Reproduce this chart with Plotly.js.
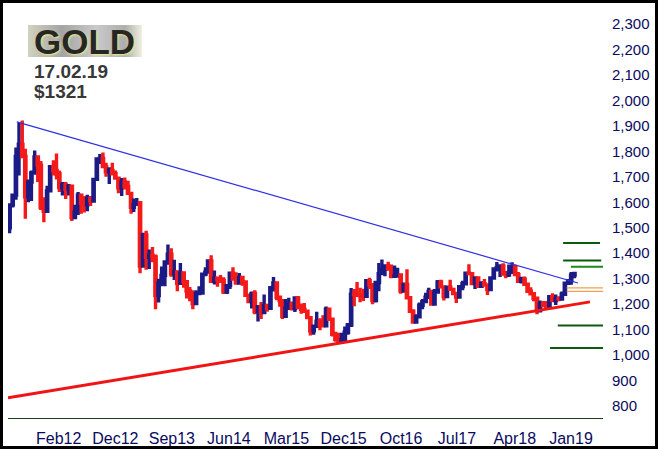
<!DOCTYPE html>
<html><head><meta charset="utf-8">
<script src="https://cdn.plot.ly/plotly-3.0.1.min.js"></script>
<style>html,body{margin:0;padding:0;background:#fff;}#chart{width:652px;height:443px;border:3px solid #000;}</style>
</head><body><div id="chart"></div><script>
// Semi-monthly gold OHLC (USD/oz), Jul 2011 - mid Feb 2019
const open = [
 1500,1590,1628,1780,1828,1780,1622,1680,1715,1778,1746,1580,
 1565,1645,1740,1725,1712,1658,1668,1650,1663,1540,1562,1628,1598,1590,1614,1605,1690,1770,1772,1740,1720,1725,1712,1695,
 1657,1680,1662,1635,1580,1592,1598,1350,1472,1385,1392,1385,1234,1283,1313,1366,1396,1318,1327,1282,1323,1288,1252,1233,
 1202,1242,1244,1318,1326,1370,1290,1302,1297,1293,1249,1273,1322,1299,1283,1305,1287,1235,1210,1242,1171,1190,1167,1195,
 1184,1265,1283,1227,1213,1152,1184,1200,1183,1224,1190,1180,1172,1147,1095,1113,1133,1118,1115,1180,1141,1082,1062,1050,
 1061,1090,1118,1239,1238,1235,1234,1231,1292,1276,1215,1285,1320,1337,1350,1340,1309,1310,1315,1252,1277,1225,1172,1130,
 1150,1196,1210,1227,1250,1200,1248,1287,1268,1230,1267,1258,1242,1228,1269,1280,1322,1320,1281,1303,1270,1280,1275,1257,
 1303,1338,1343,1350,1318,1315,1325,1345,1316,1290,1298,1278,1251,1241,1223,1175,1201,1195,1190,1229,1214,1221,1220,1239,
 1282,1292,1314];
const high = [
 1595,1632,1815,1912,1921,1810,1690,1725,1803,1780,1762,1620,
 1665,1745,1765,1792,1725,1680,1680,1672,1665,1590,1640,1630,1625,1630,1625,1694,1777,1790,1796,1755,1738,1755,1725,1698,
 1695,1697,1685,1636,1615,1617,1600,1480,1488,1415,1424,1395,1300,1348,1370,1434,1420,1374,1333,1362,1325,1290,1267,1255,
 1255,1270,1320,1345,1373,1392,1332,1305,1315,1306,1275,1325,1345,1325,1322,1305,1290,1237,1250,1255,1192,1209,1238,1202,
 1265,1307,1285,1230,1220,1220,1225,1210,1225,1232,1203,1205,1175,1148,1120,1170,1145,1156,1191,1185,1142,1092,1088,1088,
 1112,1126,1263,1260,1287,1264,1261,1297,1304,1279,1292,1362,1375,1357,1367,1356,1352,1343,1318,1285,1337,1230,1180,1160,
 1207,1220,1245,1264,1255,1260,1295,1296,1270,1268,1296,1260,1243,1270,1292,1325,1357,1322,1306,1306,1290,1299,1278,1309,
 1345,1366,1350,1361,1330,1356,1365,1355,1326,1308,1309,1280,1266,1242,1224,1214,1212,1212,1233,1243,1238,1231,1250,1285,
 1298,1326,1326];
const low = [
 1478,1580,1610,1705,1815,1535,1600,1605,1710,1680,1570,1522,
 1560,1640,1705,1690,1640,1627,1613,1627,1527,1535,1550,1555,1560,1565,1585,1600,1685,1750,1745,1700,1672,1705,1690,1636,
 1625,1650,1630,1555,1562,1590,1321,1350,1335,1338,1365,1180,1207,1270,1270,1355,1308,1295,1251,1275,1264,1222,1211,1180,
 1200,1236,1238,1310,1322,1287,1277,1268,1283,1240,1240,1260,1295,1280,1280,1272,1228,1206,1183,1160,1132,1142,1160,1170,
 1180,1250,1215,1190,1142,1150,1183,1175,1169,1180,1162,1168,1146,1077,1080,1112,1098,1115,1112,1140,1073,1052,1046,1047,
 1061,1080,1110,1192,1233,1208,1212,1225,1260,1200,1207,1251,1320,1310,1331,1302,1305,1308,1241,1250,1222,1170,1124,1123,
 1146,1180,1208,1223,1194,1200,1244,1262,1214,1225,1256,1237,1205,1228,1255,1278,1320,1280,1260,1263,1265,1270,1236,1255,
 1302,1328,1307,1313,1302,1307,1322,1310,1286,1281,1276,1245,1237,1211,1160,1167,1190,1180,1182,1221,1197,1211,1220,1236,
 1275,1276,1302];
const close = [
 1590,1628,1780,1828,1780,1622,1680,1715,1778,1746,1580,1565,
 1645,1740,1725,1712,1658,1668,1650,1663,1540,1562,1628,1598,1590,1614,1605,1690,1770,1772,1740,1720,1725,1712,1695,1657,
 1680,1662,1635,1580,1592,1598,1350,1472,1385,1392,1385,1234,1283,1313,1366,1396,1318,1327,1282,1323,1288,1252,1233,1202,
 1242,1244,1318,1326,1370,1290,1302,1297,1293,1249,1273,1322,1299,1283,1305,1287,1235,1210,1242,1171,1190,1167,1195,1184,
 1265,1283,1227,1213,1152,1184,1200,1183,1224,1190,1180,1172,1147,1095,1113,1133,1118,1115,1180,1141,1082,1062,1050,1061,
 1090,1118,1239,1238,1235,1234,1231,1292,1276,1215,1285,1320,1337,1350,1340,1309,1310,1315,1252,1277,1225,1172,1130,1150,
 1196,1210,1227,1250,1200,1248,1287,1268,1230,1267,1258,1242,1228,1269,1280,1322,1320,1281,1303,1270,1280,1275,1257,1303,
 1338,1343,1350,1318,1315,1325,1345,1316,1290,1298,1278,1251,1241,1223,1175,1201,1195,1190,1229,1214,1221,1220,1239,1282,
 1292,1314,1321];

// Bar dates: two per month (8th and 23rd) from Jul 2011
const dates = [];
for (let y = 2011; y <= 2019; y++) {
  for (let m = 1; m <= 12; m++) {
    if (y === 2011 && m < 7) continue;
    const mm = String(m).padStart(2, '0');
    dates.push(y + '-' + mm + '-08', y + '-' + mm + '-23');
  }
}
dates.length = close.length;

const tickDates = ['2012-03-05','2012-12-08','2013-09-11','2014-06-18','2015-03-27','2016-01-02','2016-10-10','2017-07-11','2018-04-21','2019-01-22'];
const tickLabels = ['Feb12','Dec12','Sep13','Jun14','Mar15','Dec15','Oct16','Jul17','Apr18','Jan19'];
const yTicks = [800,900,1000,1100,1200,1300,1400,1500,1600,1700,1800,1900,2000,2100,2200,2300];

const resistDates = ['2011-08-12','2019-02-25'];
const resistValues = [1916, 1283];
const supportDates = ['2011-06-30','2019-04-25'];
const supportValues = [832, 1209];

const targetLevels = [1440, 1371, 1347, 1264, 1250, 1116, 1028];

const titleText = 'GOLD';
const dateText = '17.02.19';
const priceText = '$1321';

// ---- drawing ----
const F = 'Liberation Sans, Arial, Helvetica, sans-serif';
const traces = [
  {type:'scatter', mode:'lines', x:resistDates, y:resistValues, line:{color:'#3030e0', width:1.2}, hoverinfo:'skip'},
  {type:'scatter', mode:'lines', x:supportDates, y:supportValues, line:{color:'#f01414', width:3}, hoverinfo:'skip'},
  {type:'candlestick', x:dates, open:open, high:high, low:low, close:close,
   increasing:{line:{color:'#1b1b86', width:3.4}, fillcolor:'#1b1b86'},
   decreasing:{line:{color:'#f41a1a', width:3.4}, fillcolor:'#f41a1a'},
   whiskerwidth:0, hoverinfo:'skip'}
];

const lineStyles = [
  {c:'#0d5a0d', w:2, x0:0.933, x1:0.995},
  {c:'#0d5a0d', w:2, x0:0.933, x1:0.997},
  {c:'#1a8a1a', w:2, x0:0.946, x1:1.0},
  {c:'#f0a050', w:1.3, x0:0.939, x1:1.0},
  {c:'#f0a050', w:1.3, x0:0.939, x1:1.0},
  {c:'#0d5a0d', w:2, x0:0.924, x1:1.0},
  {c:'#0d5a0d', w:2, x0:0.911, x1:1.0}
];
const shapes = targetLevels.map((v, i) => ({
  type:'line', xref:'paper', yref:'y', x0:lineStyles[i].x0, x1:lineStyles[i].x1, y0:v, y1:v,
  line:{color:lineStyles[i].c, width:lineStyles[i].w}
}));

const grad = "<svg xmlns='http://www.w3.org/2000/svg' width='114' height='32' preserveAspectRatio='none'><defs><linearGradient id='g' x1='0' y1='0' x2='1' y2='0'><stop offset='0' stop-color='#d2d2bf'/><stop offset='0.3' stop-color='#a4a4a4'/><stop offset='0.6' stop-color='#cacaca'/><stop offset='0.85' stop-color='#adadad'/><stop offset='1' stop-color='#f0f0e0'/></linearGradient></defs><rect width='114' height='32' fill='url(#g)'/></svg>";
const gradSrc = 'data:image/svg+xml;charset=utf-8,' + encodeURIComponent(grad);

const layout = {
  width:652, height:443,
  margin:{l:5, r:52, t:5, b:28},
  paper_bgcolor:'#ffffff', plot_bgcolor:'#ffffff',
  showlegend:false,
  xaxis:{type:'date', range:['2011-06-30','2019-06-28'], tickmode:'array', tickvals:tickDates, ticktext:tickLabels,
    showgrid:false, zeroline:false, showline:true, linecolor:'#1e3d1e', linewidth:1, ticks:'',
    tickfont:{family:F, size:16, color:'#0a0a5e'}, rangeslider:{visible:false}, fixedrange:true, ticklabelstandoff:6},
  yaxis:{side:'right', range:[753, 2363], tickmode:'array', tickvals:yTicks, tickformat:',d',
    showgrid:false, zeroline:false, showline:false, ticks:'',
    tickfont:{family:F, size:15, color:'#0a0a5e'}, fixedrange:true, ticklabelstandoff:8},
  shapes:shapes,
  images:[{source:gradSrc, xref:'paper', yref:'paper', x:0.0336, y:0.9585, sizex:0.1916, sizey:0.078,
    xanchor:'left', yanchor:'top', sizing:'stretch', layer:'below'}],
  annotations:[
    {text:titleText, xref:'paper', yref:'paper', x:0.1286, y:0.9195, xanchor:'center', yanchor:'middle', showarrow:false,
     font:{family:F, size:35, weight:'bold', color:'#262626', shadow:'1px 1px 2px #eeee80'}},
    {text:dateText, xref:'paper', yref:'paper', x:0.0403, y:0.8445, xanchor:'left', yanchor:'middle', showarrow:false,
     font:{family:F, size:19, weight:'bold', color:'#383838'}},
    {text:priceText, xref:'paper', yref:'paper', x:0.0403, y:0.7966, xanchor:'left', yanchor:'middle', showarrow:false,
     font:{family:F, size:19, weight:'bold', color:'#383838'}}
  ]
};

Plotly.newPlot('chart', traces, layout, {staticPlot:true, displayModeBar:false});
</script></body></html>
